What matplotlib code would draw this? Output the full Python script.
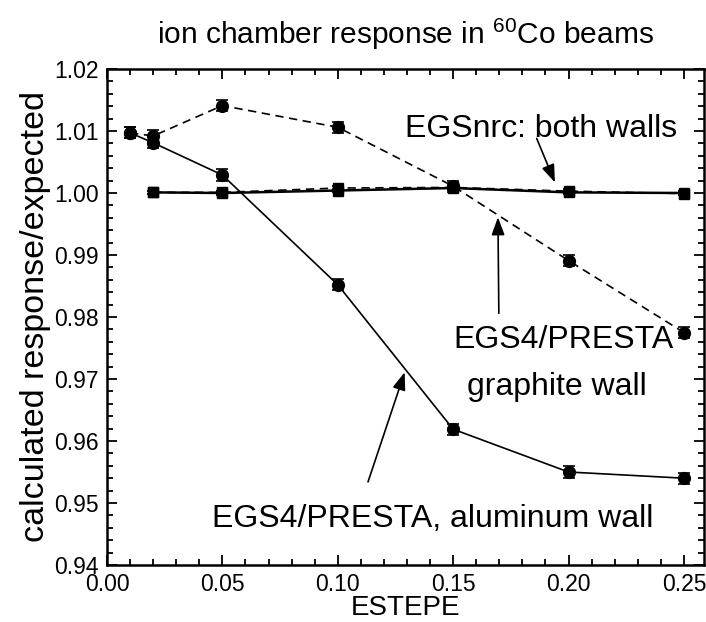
import matplotlib
matplotlib.use("Agg")
import matplotlib.pyplot as plt
from matplotlib.ticker import MultipleLocator

plt.rcParams["font.family"] = ["Liberation Sans", "DejaVu Sans"]
plt.rcParams["mathtext.fontset"] = "custom"
plt.rcParams["mathtext.rm"] = "Liberation Sans"
plt.rcParams["lines.scale_dashes"] = False

# ESTEPE values and calculated chamber response / expected
estepe_presta = [0.01, 0.02, 0.05, 0.10, 0.15, 0.20, 0.25]
presta_aluminum = [1.0097, 1.0081, 1.0029, 0.9852, 0.9619, 0.9550, 0.9540]
presta_graphite = [1.0097, 1.0092, 1.0141, 1.0106, 1.0011, 0.9891, 0.9775]
presta_err = [0.0009] * 7

estepe_nrc = [0.02, 0.05, 0.10, 0.15, 0.20, 0.25]
nrc_aluminum = [1.0001, 1.0000, 1.0004, 1.0008, 1.0001, 1.0000]
nrc_graphite = [1.0001, 1.0001, 1.0008, 1.0009, 1.0003, 0.9999]
nrc_err = [0.0003] * 6

fig = plt.figure(figsize=(7.06, 6.22), dpi=100)
ax = fig.add_axes([107 / 706, 1 - 565 / 622, 597 / 706, 496 / 622])

dash = (0, (6, 4))
eb = dict(color="black", capsize=4.5, elinewidth=1.2, capthick=1.2, lw=1.2)
ax.errorbar(estepe_presta, presta_aluminum, yerr=presta_err, fmt="o-", ms=8.5, **eb)
ax.errorbar(estepe_presta, presta_graphite, yerr=presta_err, fmt="o", ms=8.5,
            ls=dash, **eb)
ax.errorbar(estepe_nrc, nrc_aluminum, yerr=nrc_err, fmt="s-", ms=7.5,
            **dict(eb, lw=1.8))
ax.errorbar(estepe_nrc, nrc_graphite, yerr=nrc_err, fmt="s", ms=7.5,
            ls=dash, **eb)

ax.set_xlim(0, 0.2587)
ax.set_ylim(0.94, 1.02)
ax.xaxis.set_major_locator(MultipleLocator(0.05))
ax.xaxis.set_minor_locator(MultipleLocator(0.01))
ax.yaxis.set_major_locator(MultipleLocator(0.01))
ax.yaxis.set_minor_locator(MultipleLocator(0.002))
ax.xaxis.set_major_formatter(lambda v, p: f"{v:.2f}")
ax.yaxis.set_major_formatter(lambda v, p: f"{v:.2f}")
ax.tick_params(which="both", direction="in", top=True, right=True,
               labelsize=16.5, width=1.3)
ax.tick_params(which="major", length=7, pad=6)
ax.tick_params(which="minor", length=4)
for s in ax.spines.values():
    s.set_linewidth(1.8)

ax.set_xlabel("ESTEPE", fontsize=20, labelpad=-1)
ax.set_ylabel("calculated response/expected", fontsize=24.5, labelpad=2)
fig.text(405 / 706, 1 - 44 / 622, "ion chamber response in $^{60}$Co beams",
         ha="center", va="baseline", fontsize=21.5)

arrow = dict(arrowstyle="-|>,head_length=0.6,head_width=0.22", color="black",
             lw=1.2, mutation_scale=18, shrinkA=0, shrinkB=0)
ax.annotate("", xy=(0.1941, 1.0017), xytext=(0.1862, 1.0088), arrowprops=arrow)
ax.annotate("", xy=(0.1694, 0.9961), xytext=(0.1698, 0.9806), arrowprops=arrow)
ax.annotate("", xy=(0.1290, 0.9711), xytext=(0.1131, 0.9534), arrowprops=arrow)

ax.text(0.1880, 1.0090, "EGSnrc: both walls", ha="center", va="baseline", fontsize=23)
ax.text(0.1976, 0.9750, "EGS4/PRESTA", ha="center", va="baseline", fontsize=23)
ax.text(0.1950, 0.9674, "graphite wall", ha="center", va="baseline", fontsize=23)
ax.text(0.1412, 0.9461, "EGS4/PRESTA, aluminum wall", ha="center", va="baseline",
        fontsize=23)

fig.savefig("out.png", dpi=100)
